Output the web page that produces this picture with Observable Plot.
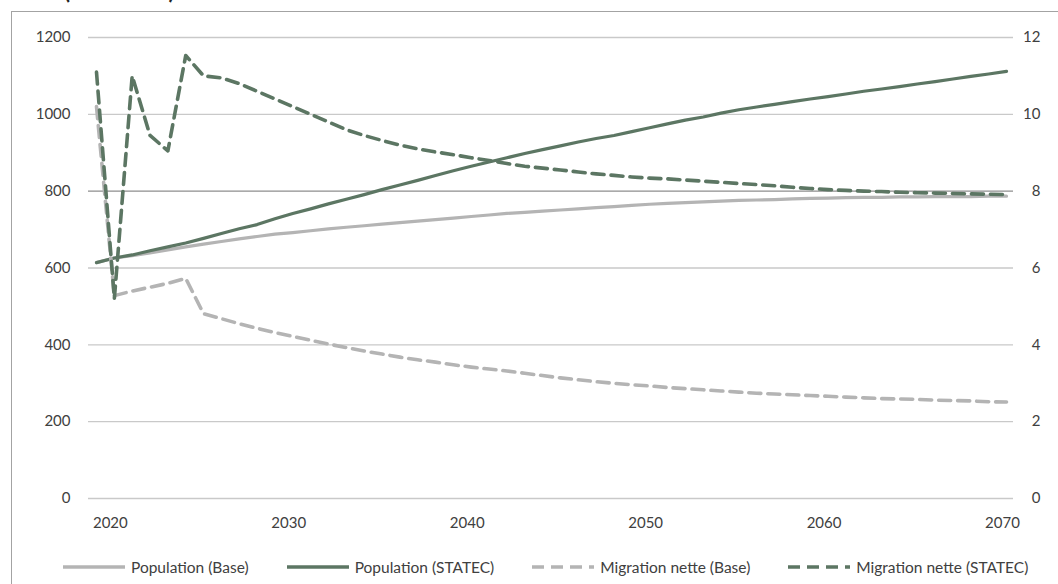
<!DOCTYPE html>
<html>
<head>
<meta charset="utf-8">
<script src="https://cdn.jsdelivr.net/npm/d3@7"></script>
<script src="https://cdn.jsdelivr.net/npm/@observablehq/plot@0.6"></script>
<style>
  html, body { margin: 0; padding: 0; background: #fff; overflow: hidden; }
  body { width: 1058px; height: 584px; position: relative; font-family: Lato, "Open Sans", sans-serif; color: #404040; }
  #frame { position: absolute; left: 11px; top: 11px; width: 2000px; height: 2000px; border-left: 1px solid #a3a3a3; border-top: 1px solid #a3a3a3; }
  #title { position: absolute; left: 64px; top: -22px; font-size: 22px; font-weight: bold; color: #222; white-space: nowrap; line-height: 26px; }
  #chart { position: absolute; left: 0; top: 0; }
  #legend { position: absolute; left: 63px; top: 558px; display: flex; gap: 38px; font-size: 15.5px; align-items: center; white-space: nowrap; }
  .item { display: flex; align-items: center; gap: 6px; }
</style>
</head>
<body>
<div id="frame"></div>
<div id="title">(en milliers)</div>
<div id="chart"></div>
<div id="legend"></div>
<script>
const years = d3.range(2019, 2071);

const popBase = [614, 626, 632, 639, 647, 655, 662, 669, 676, 682, 688, 692,
  697, 702, 706, 710, 714, 718, 722, 726, 730, 734,
  738, 742, 745, 748, 751, 754, 757, 760, 763, 766,
  768, 770, 772, 774, 776, 777, 778, 780, 781, 782,
  783, 784, 784, 785, 785, 786, 786, 786, 787, 787];

const popStatec = [614, 626, 634, 645, 655, 665, 677, 690, 702, 713, 728, 742,
  754, 767, 779, 791, 804, 816, 828, 841, 853, 865,
  876, 887, 898, 908, 918, 928, 937, 945, 955, 965,
  975, 985, 993, 1003, 1012, 1019, 1026, 1033, 1040, 1046,
  1053, 1060, 1066, 1072, 1079, 1085, 1092, 1099, 1105, 1112];

const migBase = [10.2, 5.28, 5.4, 5.5, 5.6, 5.73, 4.81, 4.68, 4.55, 4.43, 4.32, 4.22,
  4.12, 4.02, 3.93, 3.84, 3.76, 3.68, 3.61, 3.55, 3.48, 3.42,
  3.37, 3.32, 3.26, 3.20, 3.14, 3.09, 3.04, 3.00, 2.96, 2.93,
  2.89, 2.86, 2.83, 2.80, 2.77, 2.74, 2.72, 2.70, 2.68, 2.66,
  2.64, 2.62, 2.60, 2.59, 2.58, 2.56, 2.55, 2.54, 2.52, 2.51];

const migStatec = [11.1, 5.2, 11.0, 9.45, 9.05, 11.53, 11.0, 10.95, 10.8, 10.6, 10.4, 10.2,
  10.0, 9.8, 9.6, 9.45, 9.32, 9.2, 9.1, 9.02, 8.95, 8.87,
  8.8, 8.72, 8.65, 8.6, 8.55, 8.5, 8.45, 8.41, 8.37, 8.34,
  8.32, 8.29, 8.26, 8.23, 8.2, 8.17, 8.14, 8.1, 8.07, 8.04,
  8.02, 8.0, 7.99, 7.97, 7.96, 7.95, 7.94, 7.93, 7.92, 7.91];

const leftTicks = [0, 200, 400, 600, 800, 1000, 1200];
const xTicks = [2020, 2030, 2040, 2050, 2060, 2070];

const seriesNames = ["Population (Base)", "Population (STATEC)", "Migration nette (Base)", "Migration nette (STATEC)"];
const colorLight = "#b4b4b4";
const colorDark = "#5c7663";

// secondary axis (0–12) mapped onto primary (0–1200)
const ratio = 100;
const rows = (vals, scale) => years.map((year, i) => ({year, v: vals[i] * scale}));

const plot = Plot.plot({
  width: 1058,
  height: 545,
  marginTop: 37,
  marginBottom: 47,
  marginLeft: 88,
  marginRight: 45,
  style: {fontFamily: "Lato, 'Open Sans', sans-serif", fontSize: "15px", color: "#404040", background: "transparent", overflow: "visible"},
  x: {domain: [2019, 2070], insetLeft: 8, insetRight: 7},
  y: {domain: [0, 1200]},
  marks: [
    Plot.ruleY(leftTicks, {stroke: d => d === 800 ? "#8e8e8e" : "#c9c9c9", strokeWidth: 1.4}),
    Plot.axisY({anchor: "left", ticks: leftTicks, tickFormat: d => String(d), tickSize: 0, tickPadding: 18, label: null, fill: "#404040"}),
    Plot.axisY({anchor: "right", ticks: leftTicks, tickFormat: d => String(d / ratio), tickSize: 0, tickPadding: 27, textAnchor: "end", label: null, fill: "#404040"}),
    Plot.axisX({ticks: xTicks, tickFormat: d => String(d), tickSize: 0, tickPadding: 19, dx: -4, label: null, fill: "#404040"}),
    Plot.line(rows(popBase, 1), {x: "year", y: "v", stroke: colorLight, strokeWidth: 3.2}),
    Plot.line(rows(popStatec, 1), {x: "year", y: "v", stroke: colorDark, strokeWidth: 3.2}),
    Plot.line(rows(migBase, ratio), {x: "year", y: "v", stroke: colorLight, strokeWidth: 3.6, strokeDasharray: "12,7"}),
    Plot.line(rows(migStatec, ratio), {x: "year", y: "v", stroke: colorDark, strokeWidth: 3.6, strokeDasharray: "12,7"})
  ]
});
document.getElementById("chart").appendChild(plot);

// legend
const legendStyles = [
  {stroke: colorLight, dash: null},
  {stroke: colorDark, dash: null},
  {stroke: colorLight, dash: "12,7"},
  {stroke: colorDark, dash: "12,7"}
];
const legend = document.getElementById("legend");
seriesNames.forEach((name, i) => {
  const st = legendStyles[i];
  const item = document.createElement("div");
  item.className = "item";
  item.innerHTML = `<svg width="62" height="10"><line x1="0" x2="62" y1="5" y2="5" stroke="${st.stroke}" stroke-width="3.6" ${st.dash ? `stroke-dasharray="${st.dash}"` : ""}/></svg><span>${name}</span>`;
  legend.appendChild(item);
});
</script>
</body>
</html>
